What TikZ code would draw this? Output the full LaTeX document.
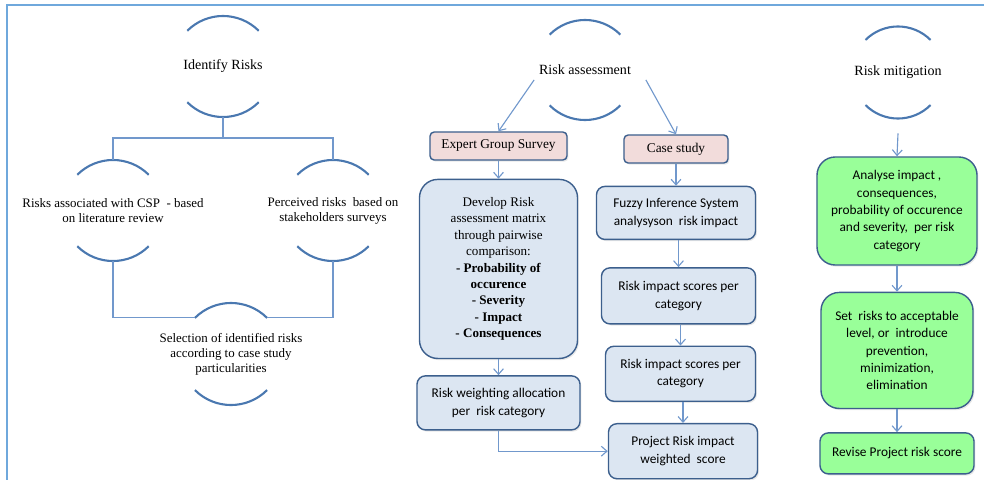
\documentclass[tikz,border=0pt]{standalone}
\usepackage{fontspec}
\setmainfont{Liberation Serif}
\newfontfamily\calibrifont{Carlito}
\usetikzlibrary{arrows.meta, positioning, shadows}

\definecolor{framecol}{HTML}{6FA8DC}
\definecolor{arccol}{HTML}{4A78B0}
\definecolor{linecol}{HTML}{7198CC}
\definecolor{boxline}{HTML}{3C5F8D}
\definecolor{boxblue}{HTML}{DCE6F2}
\definecolor{boxpink}{HTML}{F2DCDB}
\definecolor{boxgreen}{HTML}{99FF99}

% top and bottom caps of a circle node
\newcommand{\caparcs}[2]{%
  \draw[arcline] (#1.45) arc[start angle=45, end angle=135, radius=#2];
  \draw[arcline] (#1.225) arc[start angle=225, end angle=315, radius=#2];}

\begin{document}
\begin{tikzpicture}[
    x=0.025cm, y=-0.025cm,
    capnode/.style={circle, minimum size=#1, inner sep=0pt, outer sep=0pt},
    arcline/.style={draw=arccol, line width=1.5pt},
    captext/.style={align=center, font=\fontsize{10}{12}\selectfont},
    subtext/.style={align=center, font=\fontsize{9.2}{10.7}\selectfont},
    frame/.style={draw=framecol, line width=1.5pt},
    tree/.style={draw=linecol, line width=0.8pt},
    arr/.style={-{Straight Barb[length=4pt,width=7pt]}, draw=linecol, line width=0.8pt},
    box/.style={
      rectangle, rounded corners=6pt, draw=boxline, line width=1pt,
      fill=boxblue, align=center, inner sep=2pt,
      font=\calibrifont\fontsize{9.5}{12.4}\selectfont,
      drop shadow={opacity=0.18, shadow xshift=1pt, shadow yshift=-1.2pt}
    },
    bigbox/.style={box, rounded corners=13pt},
    pinkbox/.style={box, fill=boxpink, rounded corners=3pt,
      font=\rmfamily\fontsize{9.5}{11}\selectfont},
    greenbox/.style={bigbox, fill=boxgreen}
  ]

  \useasboundingbox (0,0) rectangle (984,479);
  \draw[frame] (7,495) -- (7,5) -- (1000,5);

  % Identify risks tree
  \node[capnode=2.525cm] (ir) at (223,66.5) {};
  \node[captext] (irt) at (ir) {Identify Risks};
  \caparcs{ir}{1.2625cm}

  \node[capnode=2.525cm] (lc) at (113,210.5) {};
  \node[subtext] (lct) at (lc) {Risks associated with CSP~ - based\\on literature review};
  \caparcs{lc}{1.2625cm}

  \node[capnode=2.525cm] (rc) at (333,210.5) {};
  \node[subtext] (rct) at (rc) {Perceived risks~ based on\\stakeholders surveys};
  \caparcs{rc}{1.2625cm}

  \node[capnode=2.55cm] (sel) at (231,354) {};
  \node[subtext] (selt) at (sel) {Selection of identified risks\\according to case study\\particularities};
  \caparcs{sel}{1.275cm}

  \draw[tree] (ir.south) -- ++(0,21) -| (lc.north);
  \draw[tree] (ir.south) -- ++(0,21) -| (rc.north);
  \draw[tree] (lc.south) |- (sel.135);
  \draw[tree] (rc.south) |- (sel.45);

  % Risk assessment
  \node[capnode=2.5cm] (ra) at (585,70) {};
  \node[captext] (rat) at (ra) {Risk assessment};
  \caparcs{ra}{1.25cm}

  \node[pinkbox, minimum width=3.425cm, minimum height=0.7cm] (egs) at (498.5,146) {Expert Group Survey};
  \node[bigbox, below=0.45cm of egs, minimum width=3.95cm, minimum height=4.475cm,
        font=\rmfamily\fontsize{9.3}{11.7}\selectfont] (dev)
    {Develop Risk\\assessment matrix\\through pairwise\\comparison:\\
     \textbf{- Probability of}\\\textbf{occurence}\\\textbf{- Severity}\\
     \textbf{- Impact}\\\textbf{- Consequences}};
  \node[box, below=0.4cm of dev, minimum width=4.075cm, minimum height=1.35cm] (rwa)
    {Risk weighting allocation\\per~ risk category};

  \node[pinkbox, minimum width=2.6cm, minimum height=0.7cm] (cs) at (676,149) {Case study};
  \node[box, below=0.55cm of cs, minimum width=3.975cm, minimum height=1.325cm] (fis)
    {Fuzzy Inference System\\analysyson~ risk impact};
  \node[box, below=0.675cm of fis.south east, anchor=north east,
        minimum width=3.85cm, minimum height=1.4cm] (ris1) {Risk impact scores per\\category};
  \node[box, below=0.525cm of ris1.south east, anchor=north east,
        minimum width=3.75cm, minimum height=1.375cm] (ris2) {Risk impact scores per\\category};
  \node[box, below=0.525cm of ris2.south east, anchor=north east, xshift=0.05cm,
        minimum width=3.725cm, minimum height=1.375cm] (prj) {Project Risk impact\\weighted~ score};

  \draw[arr] (rat.south west) -- (egs.north);
  \draw[arr] ([xshift=0.25cm]rat.south east) -- (cs.north);
  \draw[arr] (egs) -- (dev);
  \draw[arr] (dev) -- (rwa);
  \draw[arr] (cs) -- (fis);
  \draw[arr] (fis.south -| ris1.north) -- (ris1.north);
  \draw[arr] (ris1.south -| ris2.north) -- (ris2.north);
  \draw[arr] (ris2.south -| prj.north) -- (prj.north);
  \draw[arr] (rwa.south) |- (prj.west);

  % Risk mitigation
  \node[capnode=2.3cm] (rm) at (898,72.5) {};
  \node[captext] (rmt) at (rm) {Risk mitigation};
  \caparcs{rm}{1.15cm}

  \node[greenbox, minimum width=4.0cm, minimum height=2.7cm] (ana) at (897,211)
    {Analyse impact ,\\consequences,\\probability of occurence\\and severity,~ per risk\\category};
  \node[greenbox, below=0.65cm of ana, minimum width=3.8cm, minimum height=2.9cm] (set)
    {Set~ risks to acceptable\\level, or~ introduce\\prevention,\\minimization,\\elimination};
  \node[box, fill=boxgreen, below=0.575cm of set, minimum width=3.85cm, minimum height=1.025cm] (rev)
    {Revise Project risk score};

  \draw[arr] ([yshift=-0.37cm]rm.south) -- (ana.north);
  \draw[arr] (ana) -- (set);
  \draw[arr] (set) -- (rev);

\end{tikzpicture}
\end{document}
